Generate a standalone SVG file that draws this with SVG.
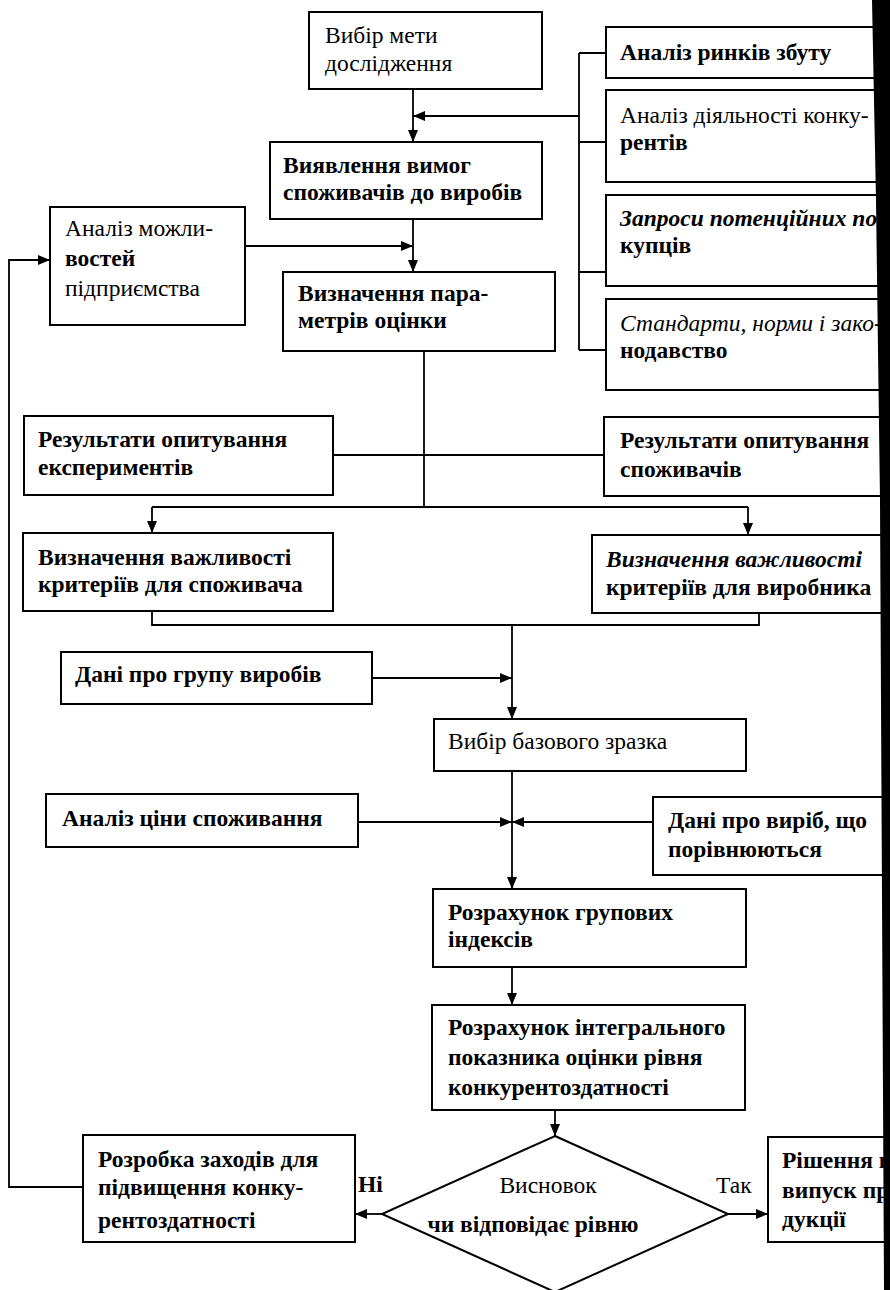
<svg xmlns="http://www.w3.org/2000/svg" width="890" height="1290" viewBox="0 0 890 1290">
<style>
.box{fill:#fff;stroke:#000;stroke-width:2}
.ln{fill:none;stroke:#000;stroke-width:1.8}
.t{font-family:"Liberation Serif","Times New Roman",serif;font-size:23.5px;fill:#000}
.b{font-weight:bold}
.i{font-style:italic}
</style>
<defs>
<marker id="ar" viewBox="0 0 12 10" refX="12" refY="5" markerWidth="12" markerHeight="10" markerUnits="userSpaceOnUse" orient="auto">
<path d="M0,0 L12,5 L0,10 Z" fill="#000"/>
</marker>
</defs>
<rect width="890" height="1290" fill="#fff"/>
<g id="connectors">
<path class="ln" d="M413,89 V142" marker-end="url(#ar)"/>
<path class="ln" d="M579,53 V350 M579,53 H606 M579,142 H606 M579,272 H606 M579,350 H606"/>
<path class="ln" d="M579,116 H413" marker-end="url(#ar)"/>
<path class="ln" d="M413,219 V272" marker-end="url(#ar)"/>
<path class="ln" d="M245,246 H413" marker-end="url(#ar)"/>
<path class="ln" d="M83,1187 H9 V260 H50" marker-end="url(#ar)"/>
<path class="ln" d="M424,351 V507"/>
<path class="ln" d="M333,455 H604"/>
<path class="ln" d="M152,507 H748"/>
<path class="ln" d="M152,507 V533" marker-end="url(#ar)"/>
<path class="ln" d="M748,507 V535" marker-end="url(#ar)"/>
<path class="ln" d="M152,611 V625 H759 V613"/>
<path class="ln" d="M512,625 V719" marker-end="url(#ar)"/>
<path class="ln" d="M372,678 H512" marker-end="url(#ar)"/>
<path class="ln" d="M512,771 V889" marker-end="url(#ar)"/>
<path class="ln" d="M358,822 H512" marker-end="url(#ar)"/>
<path class="ln" d="M653,822 H512" marker-end="url(#ar)"/>
<path class="ln" d="M512,967 V1005" marker-end="url(#ar)"/>
<path class="ln" d="M555,1110 V1136" marker-end="url(#ar)"/>
<path class="ln" d="M382,1214 H355" marker-end="url(#ar)"/>
<path class="ln" d="M728,1214 H768" marker-end="url(#ar)"/>
<text class="t b" x="358" y="1192">Ні</text>
<text class="t" x="716" y="1193">Так</text>
</g>
<g id="n-meta">
<rect class="box" x="309" y="12" width="233" height="77"/>
<text class="t" x="325" y="43">Вибір мети</text>
<text class="t" x="325" y="71">дослідження</text>
</g>
<g id="n-vymogy">
<rect class="box" x="270" y="142" width="272" height="77"/>
<text class="t b" x="283" y="173">Виявлення вимог</text>
<text class="t b" x="283" y="200">споживачів до виробів</text>
</g>
<g id="n-mozhlyvosti">
<rect class="box" x="50" y="207" width="195" height="118"/>
<text class="t" x="65" y="236">Аналіз можли-</text>
<text class="t b" x="65" y="266">востей</text>
<text class="t" x="65" y="296">підприємства</text>
</g>
<g id="n-parametry">
<rect class="box" x="283" y="272" width="272" height="79"/>
<text class="t b" x="298" y="301">Визначення пара-</text>
<text class="t b" x="298" y="328">метрів оцінки</text>
</g>
<g id="n-rynky">
<rect class="box" x="606" y="27" width="280" height="51"/>
<text class="t b" x="620" y="60">Аналіз ринків збуту</text>
</g>
<g id="n-konkurenty">
<rect class="box" x="606" y="90" width="280" height="92"/>
<text class="t" x="620" y="123">Аналіз діяльності конку-</text>
<text class="t b" x="620" y="150">рентів</text>
</g>
<g id="n-zaprosy">
<rect class="box" x="606" y="195" width="280" height="91"/>
<text class="t b i" x="620" y="226">Запроси потенційних по-</text>
<text class="t b" x="620" y="253">купців</text>
</g>
<g id="n-standarty">
<rect class="box" x="606" y="299" width="280" height="91"/>
<text class="t i" x="620" y="331">Стандарти, норми і зако-</text>
<text class="t b" x="620" y="358">нодавство</text>
</g>
<g id="n-eksperty">
<rect class="box" x="24" y="416" width="309" height="79"/>
<text class="t b" x="38" y="447">Результати опитування</text>
<text class="t b" x="38" y="475">експериментів</text>
</g>
<g id="n-spozhyvachi">
<rect class="box" x="604" y="417" width="282" height="79"/>
<text class="t b" x="620" y="448">Результати опитування</text>
<text class="t b" x="620" y="477">споживачів</text>
</g>
<g id="n-vazh-spozh">
<rect class="box" x="23" y="533" width="310" height="78"/>
<text class="t b" x="38" y="565">Визначення важливості</text>
<text class="t b" x="38" y="592">критеріїв для споживача</text>
</g>
<g id="n-vazh-vyrob">
<rect class="box" x="592" y="535" width="294" height="78"/>
<text class="t b i" x="606" y="567">Визначення важливості</text>
<text class="t b" x="606" y="595">критеріїв для виробника</text>
</g>
<g id="n-grupa">
<rect class="box" x="61" y="652" width="311" height="52"/>
<text class="t b" x="75" y="682">Дані про групу виробів</text>
</g>
<g id="n-bazovyi">
<rect class="box" x="434" y="719" width="312" height="52"/>
<text class="t" x="448" y="749">Вибір базового зразка</text>
</g>
<g id="n-tsina">
<rect class="box" x="46" y="794" width="312" height="53"/>
<text class="t b" x="62" y="826">Аналіз ціни споживання</text>
</g>
<g id="n-vyrib">
<rect class="box" x="653" y="797" width="233" height="78"/>
<text class="t b" x="668" y="828">Дані про виріб, що</text>
<text class="t b" x="668" y="857">порівнюються</text>
</g>
<g id="n-grupovi">
<rect class="box" x="433" y="889" width="313" height="78"/>
<text class="t b" x="448" y="920">Розрахунок групових</text>
<text class="t b" x="448" y="947">індексів</text>
</g>
<g id="n-integral">
<rect class="box" x="432" y="1005" width="313" height="105"/>
<text class="t b" x="448" y="1035">Розрахунок інтегрального</text>
<text class="t b" x="448" y="1065">показника оцінки рівня</text>
<text class="t b" x="448" y="1095">конкурентоздатності</text>
</g>
<g id="n-vysnovok">
<path class="box" d="M555,1136 L728,1214 L555,1292 L382,1214 Z"/>
<text class="t" x="548" y="1193" text-anchor="middle">Висновок</text>
<text class="t b" x="533" y="1232" text-anchor="middle">чи відповідає рівню</text>
</g>
<g id="n-rozrobka">
<rect class="box" x="83" y="1135" width="272" height="107"/>
<text class="t b" x="98" y="1167">Розробка заходів для</text>
<text class="t b" x="98" y="1195">підвищення конку-</text>
<text class="t b" x="98" y="1228">рентоздатності</text>
</g>
<g id="n-rishennia">
<rect class="box" x="768" y="1137" width="118" height="105"/>
<text class="t b" x="782" y="1168">Рішення п</text>
<text class="t b" x="782" y="1198">випуск пр</text>
<text class="t b" x="782" y="1227">дукції</text>
</g>
<polygon points="872,0 890,0 890,1290 884,1290 882,900 880,500 876,200" fill="#000"/>
</svg>
